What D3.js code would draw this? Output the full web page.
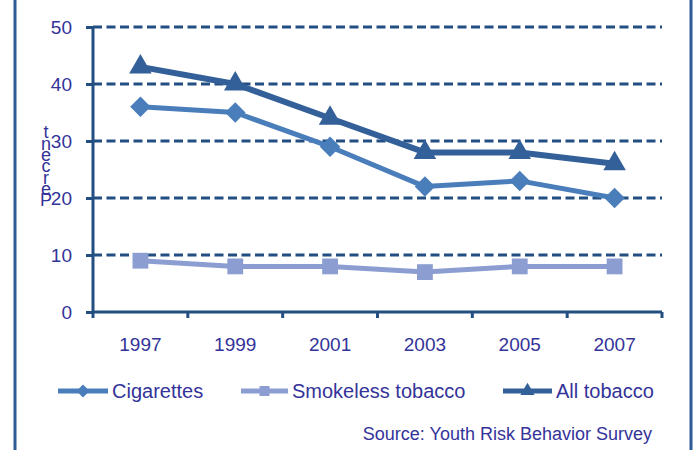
<!DOCTYPE html>
<html><head><meta charset="utf-8">
<script src="https://cdn.jsdelivr.net/npm/d3@7"></script>
<style>body{margin:0;background:#fff}svg{display:block;font-family:"Liberation Sans",Arial,sans-serif}</style>
</head><body><svg id="c" width="695" height="450"></svg>
<script>
const years = ["1997","1999","2001","2003","2005","2007"];
const cigarettes = [36, 35, 29, 22, 23, 20];
const smokeless = [9, 8, 8, 7, 8, 8];
const allTobacco = [43, 40, 34, 28, 28, 26];
const yTicks = [0,10,20,30,40,50];
const seriesNames = ["Cigarettes","Smokeless tobacco","All tobacco"];
const yTitle = "Percent";
const source = "Source: Youth Risk Behavior Survey";

const textColor = "#333399", axisColor = "#234E82";
const colors = ["#4A7EBB", "#8C9DD2", "#34609A"];
const symbols = [d3.symbolSquare, d3.symbolSquare, d3.symbolTriangle];
const rotations = [45, 0, 0];
const symSizes = [210, 250, 220];
const series = [cigarettes, smokeless, allTobacco];

const svg = d3.select("#c");
// frame borders
svg.append("line").attr("x1",15).attr("x2",15).attr("y1",0).attr("y2",450).attr("stroke","#2E5B94").attr("stroke-width",3);
svg.append("line").attr("x1",691).attr("x2",691).attr("y1",0).attr("y2",450).attr("stroke","#2E5B94").attr("stroke-width",3);

const x = d3.scaleBand().domain(years).range([93, 662]);
const y = d3.scaleLinear().domain([0,50]).range([312, 27]);

// gridlines
svg.append("g").selectAll("line").data(yTicks.filter(d=>d>0)).join("line")
  .attr("x1",93).attr("x2",662).attr("y1",d=>y(d)).attr("y2",d=>y(d))
  .attr("stroke",axisColor).attr("stroke-width",3).attr("stroke-dasharray","9,4.5");

// y axis
const ya = svg.append("g").attr("transform","translate(93,0)")
  .call(d3.axisLeft(y).tickValues(yTicks).tickSize(7).tickPadding(14));
ya.select(".domain").attr("stroke",axisColor).attr("stroke-width",3).attr("d","M0,312V27");
ya.selectAll(".tick line").attr("stroke",axisColor).attr("stroke-width",3);
ya.selectAll("text").attr("fill",textColor).attr("font-size",19).attr("font-family","Liberation Sans, Arial, sans-serif");

// x axis
const xa = svg.append("g").attr("transform","translate(0,312)")
  .call(d3.axisBottom(x).tickSize(0).tickPadding(26));
xa.select(".domain").attr("stroke",axisColor).attr("stroke-width",3).attr("d","M93,0H662");
xa.selectAll("text").attr("fill",textColor).attr("font-size",19).attr("font-family","Liberation Sans, Arial, sans-serif");
// category boundary ticks
const bounds = years.map(d=>x(d)).concat([662]);
svg.append("g").selectAll("line").data(bounds).join("line")
  .attr("x1",d=>d).attr("x2",d=>d).attr("y1",312).attr("y2",318)
  .attr("stroke",axisColor).attr("stroke-width",3);

// y title stacked letters (reversed, upright)
const letters = yTitle.split("").reverse();
svg.append("g").selectAll("text").data(letters).join("text")
  .attr("x",46).attr("y",(d,i)=>132+i*11.3).attr("dy","0.35em")
  .attr("text-anchor","middle").attr("fill",textColor).attr("font-size",18).text(d=>d);

// lines
const cx = d => x(d) + x.bandwidth()/2;
series.forEach((s,i)=>{
  const line = d3.line().x((d,j)=>cx(years[j])).y(d=>y(d));
  svg.append("path").datum(s).attr("d",line).attr("fill","none")
    .attr("stroke",colors[i]).attr("stroke-width",i===2?6:5).attr("stroke-linejoin","round");
});
series.forEach((s,i)=>{
  svg.append("g").selectAll("path").data(s).join("path")
    .attr("transform",(d,j)=>`translate(${cx(years[j])},${y(d)}) rotate(${rotations[i]})`)
    .attr("d",d3.symbol().type(symbols[i]).size(symSizes[i])).attr("fill",colors[i]);
});

// legend
const leg = [{x1:58,x2:108,tx:112},{x1:241,x2:288,tx:292},{x1:503,x2:552,tx:556}];
const ly = 391;
leg.forEach((l,i)=>{
  svg.append("line").attr("x1",l.x1).attr("x2",l.x2).attr("y1",ly).attr("y2",ly)
    .attr("stroke",colors[i]).attr("stroke-width",5);
  svg.append("path").attr("transform",`translate(${(l.x1+l.x2)/2},${ly}) rotate(${rotations[i]})`)
    .attr("d",d3.symbol().type(symbols[i]).size(symSizes[i]*0.4)).attr("fill",colors[i]);
  svg.append("text").attr("x",l.tx).attr("y",ly).attr("dy","0.35em").attr("fill",textColor)
    .attr("font-size",20).text(seriesNames[i]);
});

svg.append("text").attr("x",652).attr("y",440).attr("text-anchor","end")
  .attr("fill",textColor).attr("font-size",18).text(source);
</script></body></html>
